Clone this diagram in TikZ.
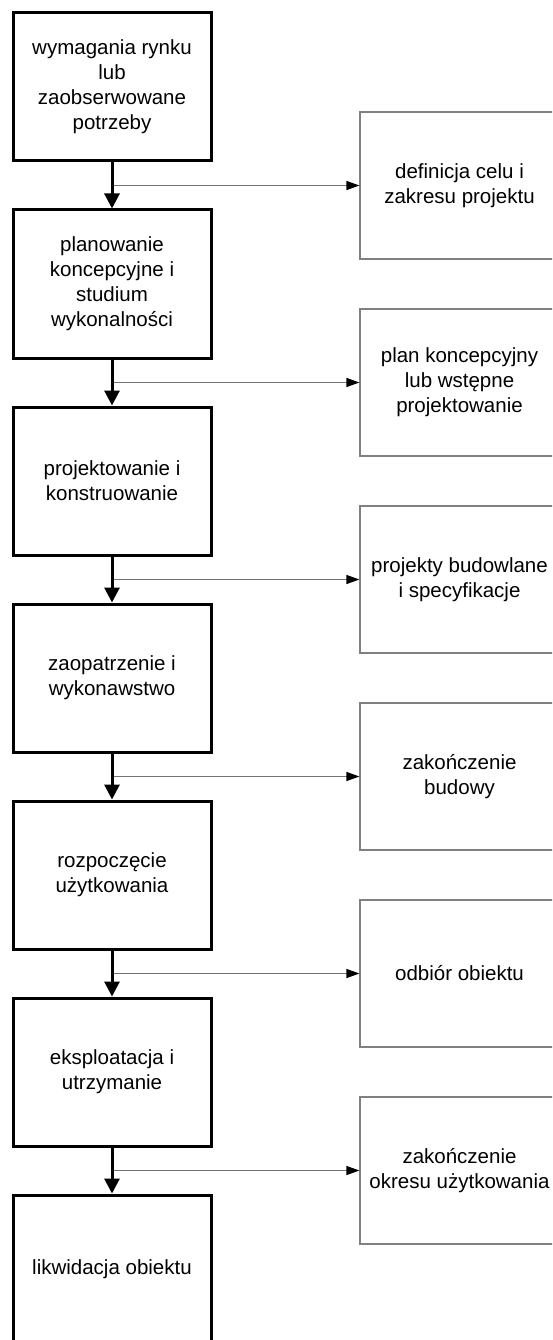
\documentclass[tikz,border=0pt]{standalone}
\usepackage{fontspec}
\setmainfont{Liberation Sans}
\usetikzlibrary{arrows.meta}
\begin{document}
\begin{tikzpicture}[x=1pt,y=-1pt,
  phase/.style={draw=black, line width=3pt, minimum width=198pt, minimum height=148pt,
    align=center, inner sep=0pt, font=\fontsize{20.5}{25}\selectfont},
  result/.style={draw=black!50, line width=1.2pt, minimum width=199pt, minimum height=147pt,
    align=center, inner sep=0pt, font=\fontsize{20.5}{25}\selectfont},
  flow/.style={line width=3pt, -{Triangle[length=15pt,width=15pt]}},
  branch/.style={draw=black!55, line width=1.2pt, -{Triangle[length=13pt,width=9pt,color=black,fill=black]}}
]
\useasboundingbox (0,0) rectangle (552,1340);
\clip (0,0) rectangle (552,1340);
% left phases
\node[phase] (p1) at (112,87) {wymagania rynku\\lub\\zaobserwowane\\potrzeby};
\node[phase] (p2) at (112,284) {planowanie\\koncepcyjne i\\studium\\wykonalności};
\node[phase] (p3) at (112,481) {projektowanie i\\konstruowanie};
\node[phase] (p4) at (112,678) {zaopatrzenie i\\wykonawstwo};
\node[phase] (p5) at (112,875) {rozpoczęcie\\użytkowania};
\node[phase] (p6) at (112,1072) {eksploatacja i\\utrzymanie};
\node[phase] (p7) at (112,1269) {likwidacja obiektu};
% right results
\node[result] (r1) at (459.5,185.5) {definicja celu i\\zakresu projektu};
\node[result] (r2) at (459.5,382.5) {plan koncepcyjny\\lub wstępne\\projektowanie};
\node[result] (r3) at (459.5,579.5) {projekty budowlane\\i specyfikacje};
\node[result] (r4) at (459.5,776.5) {zakończenie\\budowy};
\node[result] (r5) at (459.5,973.5) {odbiór obiektu};
\node[result] (r6) at (459.5,1170.5) {zakończenie\\okresu użytkowania};
% junctions
\foreach \i in {1,...,6}{
  \pgfmathtruncatemacro{\j}{\i+1}
  \coordinate (b\i) at (112,{185.5+197*(\i-1)});
  \draw[branch] (b\i) -- (r\i.west);
  \draw[flow] (p\i.south) -- (p\j.north);
}
\end{tikzpicture}
\end{document}
